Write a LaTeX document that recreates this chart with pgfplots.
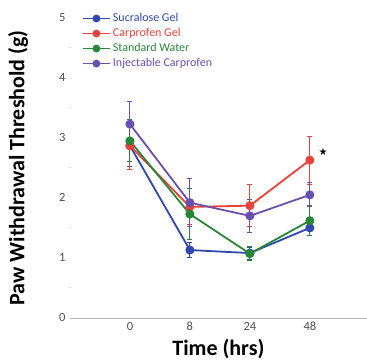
\documentclass[border=0pt]{standalone}
\usepackage{pgfplots}
\pgfplotsset{compat=1.18}
\usepackage{fontspec}
\setmainfont{Carlito}
\newfontfamily\symfont{DejaVu Sans}
\definecolor{cblue}{RGB}{45,72,175}
\definecolor{cred}{RGB}{232,66,58}
\definecolor{cgreen}{RGB}{40,135,55}
\definecolor{cpurple}{RGB}{105,80,175}
\definecolor{tickgray}{RGB}{80,80,80}
\begin{document}
\begin{tikzpicture}
\begin{axis}[
  scale only axis, width=297pt, height=300pt,
  xmin=-1, xmax=3.95, ymin=0, ymax=5,
  axis x line=bottom, axis y line=left,
  x axis line style={draw=gray!60, -},
  y axis line style={draw=none},
  xtick={0,1,2,3}, xticklabels={0,8,24,48},
  ytick={0,1,2,3,4,5},
  minor y tick num=1,
  major tick length=0pt,
  minor tick length=2pt,
  every minor tick/.style={gray!30, line width=1pt},
  x tick style={draw=none},
  tick label style={font=\fontsize{12.5}{14}\selectfont, text=tickgray},
  /pgf/number format/assume math mode=true,
  yticklabel style={xshift=-1pt},
  xticklabel style={yshift=-1pt},
  xlabel={\textbf{Time (hrs)}},
  ylabel={\textbf{Paw Withdrawal Threshold (g)}},
  every axis x label/.style={at={([yshift=-31pt]axis description cs:0.5,0)}, anchor=center},
  every axis y label/.style={at={([xshift=-52pt]axis description cs:0,0.5)}, anchor=center, rotate=90},
  label style={font=\fontsize{22}{24}\selectfont},
  legend style={at={(axis cs:-0.8,5.11)}, anchor=north west, draw=none, fill=none,
    font=\fontsize{12}{12}\selectfont, row sep=1.2pt, inner sep=0pt},
  legend cell align=left,
  legend image code/.code={\draw[#1, line width=1.8pt] (-0.05cm,0cm) -- (0.9cm,0cm); \fill[#1] (0.42cm,0cm) circle (3pt);},
  every axis plot/.append style={line width=1.8pt, mark=*, mark size=3.6pt,
    error bars/y dir=both, error bars/y explicit,
    error bars/error bar style={line width=0.9pt},
    error bars/error mark options={rotate=90, mark size=2.5pt, line width=0.9pt}},
]
\addplot[cblue, mark options={fill=cblue}] coordinates {
 (0,2.87) +- (0,0.35)
 (1,1.13) +- (0,0.12)
 (2,1.08) +- (0,0.10)
 (3,1.50) +- (0,0.13)};
\addlegendentry{\textcolor{cblue}{Sucralose Gel}}
\addplot[cred, mark options={fill=cred}] coordinates {
 (0,2.87) +- (0,0.40)
 (1,1.85) +- (0,0.30)
 (2,1.87) +- (0,0.35)
 (3,2.63) +- (0,0.40)};
\addlegendentry{\textcolor{cred}{Carprofen Gel}}
\addplot[cgreen, mark options={fill=cgreen}] coordinates {
 (0,2.95) +- (0,0.35)
 (1,1.73) +- (0,0.42)
 (2,1.07) +- (0,0.12)
 (3,1.62) +- (0,0.25)};
\addlegendentry{\textcolor{cgreen}{Standard Water}}
\addplot[cpurple, mark options={fill=cpurple}] coordinates {
 (0,3.23) +- (0,0.37)
 (1,1.92) +- (0,0.40)
 (2,1.70) +- (0,0.28)
 (3,2.05) +- (0,0.20)};
\addlegendentry{\textcolor{cpurple}{Injectable Carprofen}}
\node[font=\symfont\fontsize{10}{10}\selectfont] at (axis cs:3.22,2.77) {★};
\end{axis}
\path (current axis.south west) ++(-70pt,-40pt) rectangle ++(367pt,358pt);
\end{tikzpicture}
\end{document}
